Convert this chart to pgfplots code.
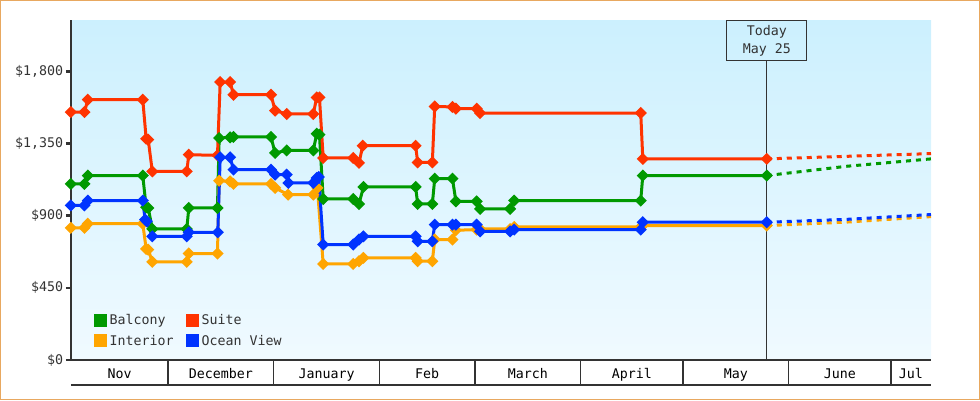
\documentclass[border=0pt]{standalone}
\usepackage{fontspec}
\setmainfont{DejaVu Sans Mono}
\usepackage{pgfplots}
\pgfplotsset{compat=1.18}

\definecolor{balcony}{HTML}{009900}
\definecolor{suite}{HTML}{FF3300}
\definecolor{interior}{HTML}{FFA500}
\definecolor{oceanview}{HTML}{0033FF}
\definecolor{axisgray}{HTML}{333333}
\definecolor{bgtop}{HTML}{CCF0FE}
\definecolor{bgbot}{HTML}{F0FAFF}
\definecolor{framecol}{HTML}{E8A860}

% x = days since Nov 1, y = price in dollars
\pgfplotstableread{
x y
1.5 1098
5.5 1098
6.5 1150
22.6 1150
23.6 952
24.2 948
25.4 817
35.5 817
36.1 948
44.5 948
45.0 1384
48.2 1388
49.2 1391
60.2 1391
61.4 1291
64.8 1307
72.6 1307
73.6 1411
74.4 1405
75.5 1004
84.3 1004
86.0 973
87.3 1079
102.6 1079
103.2 973
107.5 973
108.2 1131
113.4 1131
114.4 989
120.5 989
121.5 942
130.3 942
131.5 994
168.6 994
169.2 1150
205.55 1150
}\balcony

\pgfplotstableread{
x y
1.5 1546
5.5 1546
6.5 1623
22.6 1623
23.6 1380
24.2 1374
25.4 1176
35.5 1176
36.1 1280
44.5 1276
45.3 1733
48.2 1733
49.2 1654
60.2 1654
61.4 1555
64.8 1534
72.6 1534
73.6 1637
74.4 1637
75.5 1260
84.3 1260
86.0 1229
87.1 1336
102.6 1336
103.2 1232
107.5 1232
108.2 1581
113.4 1578
114.4 1567
120.5 1567
121.5 1540
168.6 1540
169.2 1254
205.55 1254
}\suite

\pgfplotstableread{
x y
1.5 824
5.5 824
6.5 850
22.6 850
23.6 693
24.2 688
25.4 612
35.5 612
36.1 664
44.5 664
45.0 1118
48.2 1114
49.2 1098
60.2 1098
61.4 1073
65.2 1031
72.6 1031
73.8 1073
75.5 599
84.3 599
86.0 616
87.3 637
102.6 637
103.2 616
107.5 616
108.2 751
113.4 751
114.4 809
120.5 813
121.5 817
130.3 817
131.5 830
168.6 830
169.2 838
205.55 838
}\interior

\pgfplotstableread{
x y
1.5 964
5.5 964
6.5 994
22.6 994
23.3 875
23.8 865
25.4 771
35.5 771
36.1 796
44.6 796
45.3 1264
48.2 1264
49.2 1187
60.2 1187
61.4 1156
64.8 1156
65.3 1104
72.6 1104
73.6 1135
74.2 1141
75.5 720
84.3 720
86.0 751
87.3 771
102.6 771
103.2 740
107.5 740
108.2 844
113.4 844
114.4 844
120.5 844
121.5 802
130.3 802
131.5 813
168.6 813
169.2 859
205.55 859
}\oceanview

\begin{document}
\begin{tikzpicture}[x=1pt,y=1pt,font=\fontsize{13.3}{18}\selectfont]
\begin{axis}[
  scale only axis, width=860pt, height=340pt,
  xmin=1.56, xmax=253.7, ymin=0, ymax=2120,
  clip=false,
  axis lines*=left,
  axis background/.style={top color=bgtop, bottom color=bgbot},
  y axis line style={axisgray, line width=2.5pt},
  x axis line style={axisgray, line width=1.3pt},
  tick align=outside,
  ytick={0,450,900,1350,1800},
  yticklabels={\$0,\$450,\$900,{\$1,350},{\$1,800}},
  ytick style={axisgray, line width=2.5pt, /pgfplots/major tick length=5pt},
  yticklabel style={text=axisgray},
  xtick={30,61,92,120,151,181,212,242},
  xticklabels={},
  xtick style={axisgray, line width=1.3pt, /pgfplots/major tick length=25pt},
  extra x ticks={15.8,45.5,76.5,106,135.5,166,196.5,227,247.8},
  extra x tick labels={Nov,December,January,Feb,March,April,May,June,Jul},
  extra x tick style={xtick style={draw=none},
    tick label style={anchor=base, yshift=-14.5pt, text=black}},
  legend columns=2,
  legend cell align=left,
  legend image code/.code={\fill[#1] (0pt,-5pt) rectangle (10pt,5pt);},
  legend style={at={(axis description cs:0.026,0.138)}, anchor=north west,
    draw=none, fill=none, inner sep=0pt, row sep=7pt,
    nodes={inner sep=1pt, text=axisgray},
    /tikz/every odd column/.append style={column sep=2pt},
    /tikz/every even column/.append style={column sep=11pt}},
  every axis plot/.append style={line width=3pt, mark=square*, mark size=2.8pt,
    mark options={rotate=45, solid}},
]
\draw[axisgray, line width=1pt] (axis cs:205.55,0) -- (axis cs:205.55,1872);
\node[draw=axisgray, line width=1pt, minimum width=80pt, minimum height=40pt,
  inner sep=0pt, align=center, anchor=north, text=axisgray]
  at (axis cs:205.55,2120) {Today\\May 25};

\addplot[balcony] table {\balcony};
\addlegendentry{Balcony}
\addplot[suite] table {\suite};
\addlegendentry{Suite}
\addplot[interior] table {\interior};
\addlegendentry{Interior}
\addplot[oceanview] table {\oceanview};
\addlegendentry{Ocean View}

% projections after today
\addplot[suite, no markers, dash pattern=on 5pt off 5pt, forget plot]
  coordinates {(205.55,1254) (229,1270) (253.7,1287)};
\addplot[balcony, no markers, dash pattern=on 5pt off 5pt, forget plot]
  coordinates {(205.55,1150) (229,1208) (253.7,1254)};
\addplot[interior, no markers, dash pattern=on 5pt off 5pt, forget plot]
  coordinates {(205.55,838) (229,860) (253.7,894)};
\addplot[oceanview, no markers, dash pattern=on 5pt off 5pt, forget plot]
  coordinates {(205.55,859) (229,877) (253.7,907)};

\draw[axisgray, line width=1.3pt] ([yshift=-25pt]rel axis cs:0,0) -- ([yshift=-25pt]rel axis cs:1,0);
\coordinate (ll) at ([xshift=-71pt,yshift=-40pt]rel axis cs:0,0);
\coordinate (ur) at ([xshift=49pt,yshift=20pt]rel axis cs:1,1);
\end{axis}
\pgfresetboundingbox
\useasboundingbox (ll) rectangle (ur);
\draw[framecol, line width=1.5pt] ([shift={(0.75,0.75)}]ll) rectangle ([shift={(-0.75,-0.75)}]ur);
\end{tikzpicture}
\end{document}
